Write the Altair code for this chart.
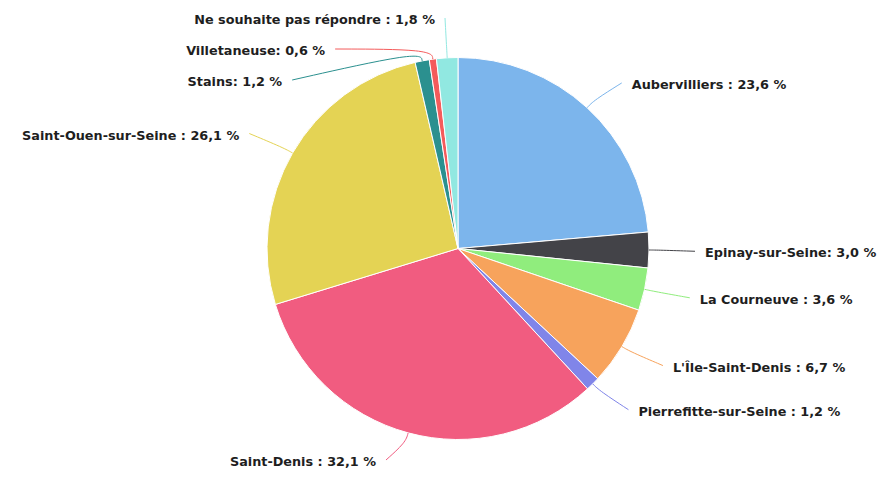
import math
import altair as alt
import pandas as pd

# ---- data ----
categories = ["Aubervilliers", "Epinay-sur-Seine", "La Courneuve", "L'Île-Saint-Denis",
              "Pierrefitte-sur-Seine", "Saint-Denis", "Saint-Ouen-sur-Seine", "Stains",
              "Villetaneuse", "Ne souhaite pas répondre"]
values = [23.6, 3.0, 3.6, 6.7, 1.2, 32.1, 26.1, 1.2, 0.6, 1.8]
separators = [" : ", ": ", " : ", " : ", " : ", " : ", " : ", ": ", ": ", " : "]
colors = ["#7cb5ec", "#434348", "#90ed7d", "#f7a35c", "#8085e9",
          "#f15c80", "#e4d354", "#2b908f", "#f45b5b", "#91e8e1"]

# ---- layout constants (style) ----
W, H = 870, 463
CX, CY = 450, 240.5
R_PIE = 191
R_LAB = 226
PAD_L = 23
PAD_R = 21
GAP = 10
BOX = 31
TOP, BOTTOM = 12, 463
Y_MAX_TEXT = H - 9
RIGHT_DY = 3

total = sum(values)
mids = []
acc = 0.0
for v in values:
    mids.append((acc + v / 2) / total * 2 * math.pi)
    acc += v


def fmt(name, sep, v):
    return name + sep + f"{v:.1f}".replace(".", ",") + " %"


def distribute(items):
    items = sorted(items, key=lambda t: t[1])
    groups = [[it] for it in items]

    def pos(g):
        mean = sum(t for _, t in g) / len(g)
        start = mean - (len(g) - 1) * BOX / 2
        return max(TOP, min(start, BOTTOM - (len(g) - 1) * BOX))

    merged = True
    while merged:
        merged = False
        for i in range(len(groups) - 1):
            a, b = groups[i], groups[i + 1]
            if pos(a) + len(a) * BOX > pos(b):
                groups[i] = a + b
                del groups[i + 1]
                merged = True
                break
    out = {}
    for g in groups:
        s = pos(g)
        for k, (idx, _) in enumerate(g):
            out[idx] = s + k * BOX
    return out


left_items, right_items = [], []
for i, a in enumerate(mids):
    ny = CY - R_LAB * math.cos(a)
    (left_items if math.sin(a) < 0 else right_items).append((i, ny))
ys = {}
ys.update(distribute(left_items))
ys.update(distribute(right_items))

label_rows, line_rows = [], []
for i, a in enumerate(mids):
    left = math.sin(a) < 0
    y = ys[i]
    dx = math.sqrt(max(R_LAB ** 2 - (y - CY) ** 2, 0))
    if left:
        tx = CX - dx - PAD_L
    else:
        tx = CX + dx + PAD_R
        y = y + RIGHT_DY
    y = min(y, Y_MAX_TEXT)
    label_rows.append({"cat": categories[i], "x": tx, "y": y,
                       "side": "left" if left else "right",
                       "text": fmt(categories[i], separators[i], values[i])})
    pts = [
        (CX + R_PIE * math.sin(a), CY - R_PIE * math.cos(a)),
        (CX + (R_PIE + 10) * math.sin(a), CY - (R_PIE + 10) * math.cos(a)),
        (tx + GAP if left else tx - GAP, y - 2),
    ]
    for k, (px, py) in enumerate(pts):
        line_rows.append({"cat": categories[i], "k": k, "x": px, "y": py})

pie_df = pd.DataFrame({"cat": categories, "value": values, "idx": list(range(len(values)))})
lab_df = pd.DataFrame(label_rows)
line_df = pd.DataFrame(line_rows)

color_scale = alt.Scale(domain=categories, range=colors)
xs = alt.Scale(domain=[0, W], nice=False, zero=False)
ysc = alt.Scale(domain=[0, H], reverse=True, nice=False, zero=False)

pie = alt.Chart(pie_df).mark_arc(outerRadius=R_PIE, stroke="white", strokeWidth=1).encode(
    theta=alt.Theta("value:Q", stack=True),
    color=alt.Color("cat:N", scale=color_scale, legend=None),
    order=alt.Order("idx:Q"),
    x=alt.value(CX),
    y=alt.value(CY),
)

lines = alt.Chart(line_df).mark_line(strokeWidth=1, interpolate="basis").encode(
    x=alt.X("x:Q", scale=xs, axis=None),
    y=alt.Y("y:Q", scale=ysc, axis=None),
    detail="cat:N",
    order="k:Q",
    color=alt.Color("cat:N", scale=color_scale, legend=None),
)

text_common = dict(font="DejaVu Sans", fontSize=12.8, fontWeight="bold",
                   color="#1e1e1e", baseline="middle")
left_text = alt.Chart(lab_df).transform_filter(alt.datum.side == "left").mark_text(
    align="right", **text_common).encode(
    x=alt.X("x:Q", scale=xs, axis=None),
    y=alt.Y("y:Q", scale=ysc, axis=None),
    text="text:N",
)
right_text = alt.Chart(lab_df).transform_filter(alt.datum.side == "right").mark_text(
    align="left", **text_common).encode(
    x=alt.X("x:Q", scale=xs, axis=None),
    y=alt.Y("y:Q", scale=ysc, axis=None),
    text="text:N",
)

chart = alt.layer(pie, lines, left_text, right_text).properties(
    width=W, height=H, autosize=alt.AutoSizeParams(type="none"), padding=0,
    background="white",
).configure_view(stroke=None)

chart.save("out.html", embed_options={"renderer": "svg", "actions": False})
